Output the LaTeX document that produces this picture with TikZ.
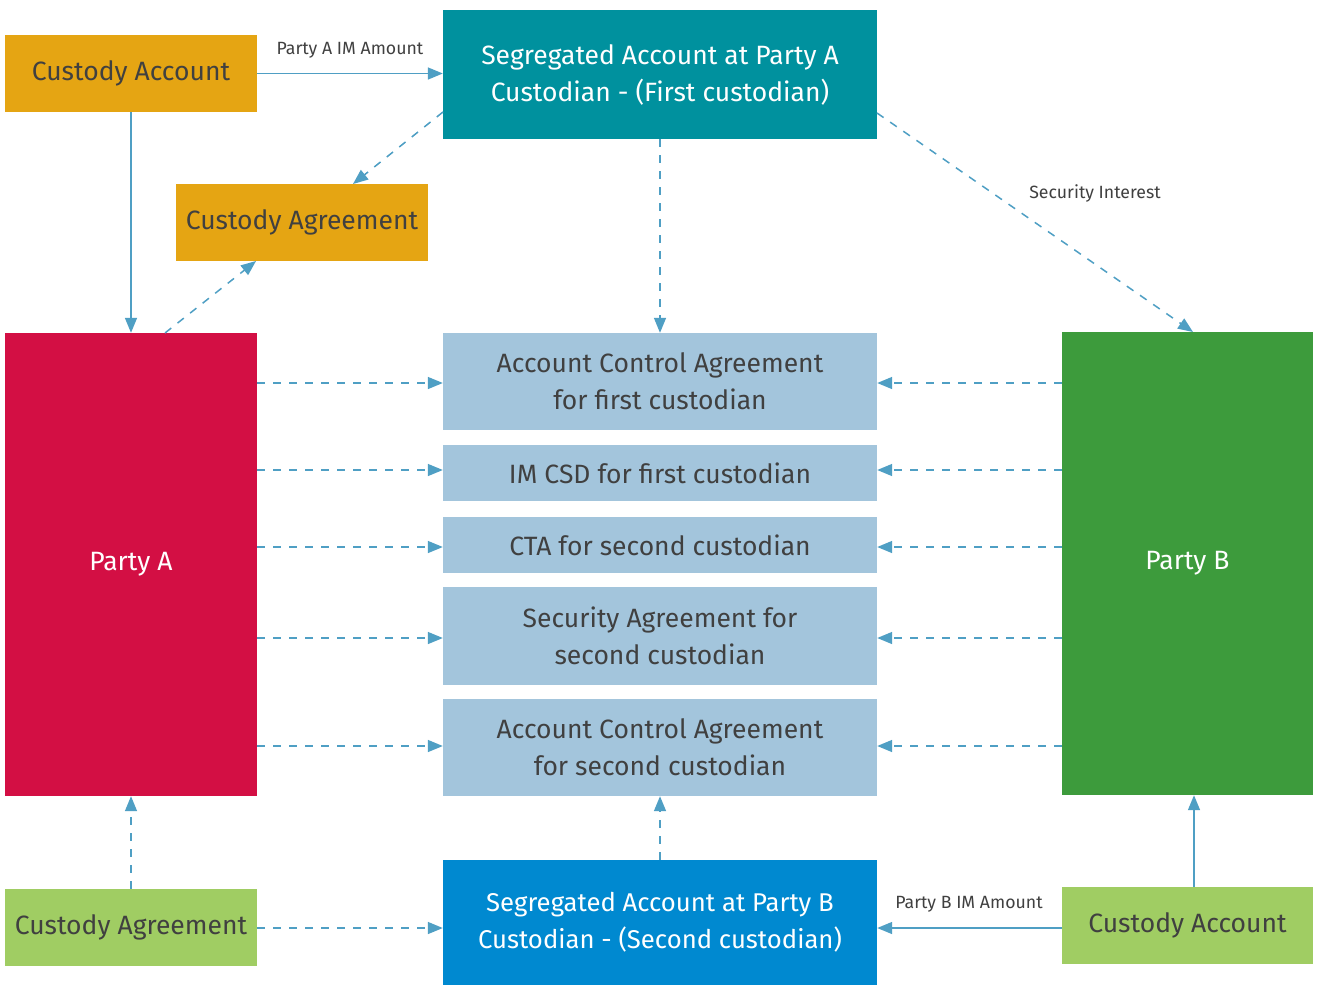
\documentclass[tikz,border=0pt]{standalone}
\usepackage{fontspec}
\setmainfont{Fira Sans}
\usetikzlibrary{arrows.meta}
\definecolor{corange}{HTML}{E5A513}
\definecolor{cteal}{HTML}{00919E}
\definecolor{ccrimson}{HTML}{D30F44}
\definecolor{cgreen}{HTML}{3D9B3C}
\definecolor{clblue}{HTML}{A3C5DC}
\definecolor{cblue}{HTML}{0089D0}
\definecolor{clgreen}{HTML}{A0CD63}
\definecolor{ctext}{HTML}{404040}
\definecolor{carrow}{HTML}{4F9FC4}
\tikzset{
  box/.style={inner sep=0pt, align=center, font=\fontsize{26.5}{37}\selectfont},
  darktext/.style={text=ctext},
  whitetext/.style={text=white},
  midbox/.style={box, fill=clblue, text=ctext, minimum width=434pt, font=\fontsize{26.5}{37}\selectfont},
  conn/.style={draw=carrow, line width=1.5pt, -{Triangle[length=15pt,width=12pt]}},
  dashconn/.style={conn, dash pattern=on 8pt off 8pt},
  lbl/.style={text=ctext, font=\fontsize{17.7}{20}\selectfont, inner sep=0pt}
}
\begin{document}
\begin{tikzpicture}[x=1pt,y=-1pt]
\useasboundingbox (0,0) rectangle (1317,986);
\fill[white] (0,0) rectangle (1317,986);
% boxes
\node[box, fill=corange, darktext, minimum width=252pt, minimum height=77pt] (custA) at (131,73.5) {Custody Account};
\node[box, fill=cteal, whitetext, minimum width=434pt, minimum height=129pt] (segA) at (660,74.5) {Segregated Account at Party A\\Custodian - (First custodian)};
\node[box, fill=corange, darktext, minimum width=252pt, minimum height=77pt] (agrA) at (302,222.5) {Custody Agreement};
\node[box, fill=ccrimson, whitetext, minimum width=252pt, minimum height=463pt] (partyA) at (131,564.5) {Party A};
\node[box, fill=cgreen, whitetext, minimum width=251pt, minimum height=463pt] (partyB) at (1187.5,563.5) {Party B};
\node[midbox, minimum height=97pt] (aca1) at (660,381.5) {Account Control Agreement\\for first custodian};
\node[midbox, minimum height=56pt] (imcsd) at (660,473) {IM CSD for first custodian};
\node[midbox, minimum height=56pt] (cta) at (660,545) {CTA for second custodian};
\node[midbox, minimum height=98pt] (sa) at (660,636) {Security Agreement for\\second custodian};
\node[midbox, minimum height=97pt] (aca2) at (660,747.5) {Account Control Agreement\\for second custodian};
\node[box, fill=cblue, whitetext, minimum width=434pt, minimum height=125pt, font=\fontsize{25.7}{37}\selectfont] (segB) at (660,922.5) {Segregated Account at Party B\\Custodian - (Second custodian)};
\node[box, fill=clgreen, darktext, minimum width=252pt, minimum height=77pt] (agrB) at (131,927.5) {Custody Agreement};
\node[box, fill=clgreen, darktext, minimum width=251pt, minimum height=77pt] (custB) at (1187.5,925.5) {Custody Account};
% helper coordinates
\coordinate (segAl) at (443,112);
\coordinate (agrAt) at (353,184);
\coordinate (partyAt) at (165,333);
\coordinate (agrAb) at (256,261);
\coordinate (segAr) at (877,113);
\coordinate (partyBt) at (1193,332);
\coordinate (custBl) at ([yshift=-2.5pt]custB.west);
\coordinate (custBt) at ([xshift=6.5pt]custB.north);
\coordinate (agrBr) at ([yshift=-0.5pt]agrB.east);
% connectors
\draw[conn] (custA.east) -- (custA.east -| segA.west);
\draw[conn] (custA.south) -- (partyA.north);
\draw[dashconn] (segAl) -- (agrAt);
\draw[dashconn] (partyAt) -- (agrAb);
\draw[dashconn] (segA.south) -- (aca1.north);
\draw[dashconn] (segAr) -- (partyBt);
\foreach \b/\s in {aca1/-1.5pt,imcsd/3pt,cta/-2pt,sa/-2pt,aca2/1.5pt}{
  \coordinate (bl) at ([yshift=\s]\b.west);
  \coordinate (br) at ([yshift=\s]\b.east);
  \draw[dashconn] (partyA.east |- bl) -- (bl);
  \draw[dashconn] (partyB.west |- br) -- (br);
}
\draw[dashconn] (segB.north) -- (aca2.south);
\draw[dashconn] (agrB.north) -- (partyA.south);
\draw[dashconn] (agrBr) -- (agrBr -| segB.west);
\draw[conn] (custBl) -- (custBl -| segB.east);
\draw[conn] (custBt) -- (custBt |- partyB.south);
% labels
\node[lbl] (lA) at (350,50) {Party A IM Amount};
\node[lbl] (lS) at (1095,193) {Security Interest};
\node[lbl] (lB) at (969,904) {Party B IM Amount};
\end{tikzpicture}
\end{document}
